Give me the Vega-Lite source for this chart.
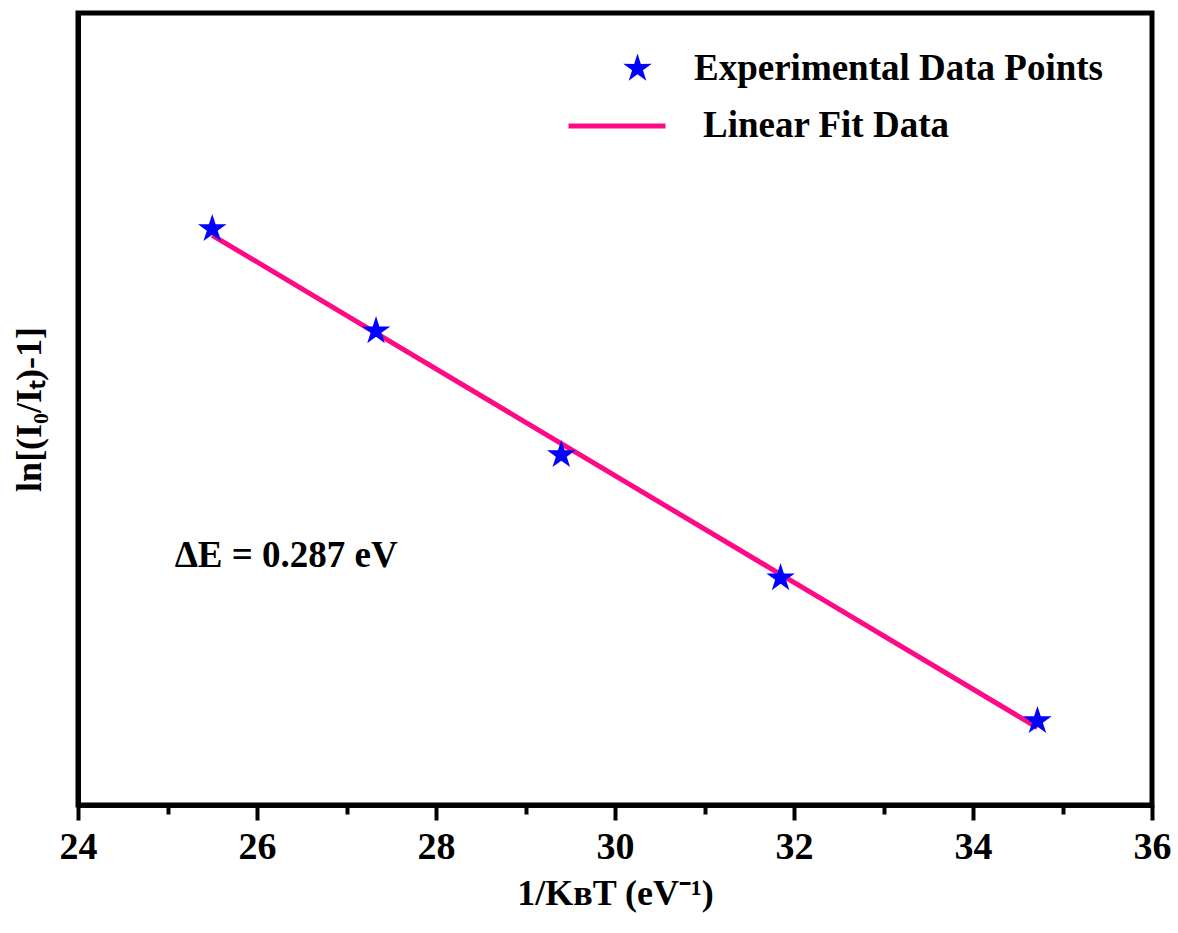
{
  "$schema": "https://vega.github.io/schema/vega-lite/v6.json",
  "width": 1074,
  "height": 792,
  "autosize": {"type": "none"},
  "padding": {"left": 78, "top": 13, "right": 26, "bottom": 128},
  "background": "white",
  "config": {
    "view": {"stroke": "black", "strokeWidth": 5},
    "font": "Liberation Serif",
    "axis": {"grid": false, "domainColor": "black", "domainWidth": 5, "tickColor": "black", "labelColor": "black", "titleColor": "black", "labelFont": "Liberation Serif", "titleFont": "Liberation Serif", "labelFontWeight": "bold", "titleFontWeight": "bold"},
    "legend": {"labelFont": "Liberation Serif", "labelFontWeight": "bold", "labelColor": "black", "labelFontSize": 37, "labelLimit": 0, "padding": 0}
  },
  "datasets": {
    "points": [
      {"x": 25.5, "y": 0.097, "series": "Experimental Data Points"},
      {"x": 27.33, "y": -0.452, "series": "Experimental Data Points"},
      {"x": 29.4, "y": -1.118, "series": "Experimental Data Points"},
      {"x": 31.85, "y": -1.78, "series": "Experimental Data Points"},
      {"x": 34.72, "y": -2.548, "series": "Experimental Data Points"}
    ],
    "fit": [
      {"x": 25.5, "y": 0.063, "series": "Linear Fit Data"},
      {"x": 27.33, "y": -0.463, "series": "Linear Fit Data"},
      {"x": 29.4, "y": -1.057, "series": "Linear Fit Data"},
      {"x": 31.85, "y": -1.76, "series": "Linear Fit Data"},
      {"x": 34.72, "y": -2.584, "series": "Linear Fit Data"}
    ],
    "annot": [
      {"x": 25.08, "y": -1.661, "label": "ΔE = 0.287 eV"}
    ]
  },
  "layer": [
    {
      "data": {"name": "fit"},
      "mark": {"type": "line", "strokeWidth": 5},
      "encoding": {
        "x": {"field": "x", "type": "quantitative", "scale": {"domain": [24, 36], "nice": false, "zero": false},
          "axis": {"orient": "bottom", "values": [24, 26, 28, 30, 32, 34, 36], "tickSize": 15, "tickWidth": 4, "labelFont": "Liberation Serif", "labelFontWeight": "bold", "labelFontSize": 38, "labelFlush": false, "labelOverlap": false, "labelPadding": 8, "titleFontSize": 36, "titlePadding": 10, "title": "1/KʙT (eV⁻¹)"}},
        "y": {"field": "y", "type": "quantitative", "scale": {"domain": [-3, 1.258], "nice": false, "zero": false},
          "axis": {"ticks": false, "labels": false, "title": "ln[(I₀/Iₜ)-1]", "titleFontSize": 36, "titlePadding": 30}},
        "stroke": {"field": "series", "type": "nominal", "scale": {"domain": ["Linear Fit Data"], "range": ["#ff0a86"]},
          "legend": {"title": null, "orient": "none", "legendX": 488, "legendY": 62, "symbolType": "stroke", "symbolSize": 9409, "symbolStrokeWidth": 5, "labelOffset": 35}}
      }
    },
    {
      "data": {"name": "points"},
      "mark": {"type": "point", "filled": true, "opacity": 1, "size": 900, "strokeWidth": 0},
      "encoding": {
        "x": {"field": "x", "type": "quantitative", "axis": null},
        "y": {"field": "y", "type": "quantitative"},
        "color": {"field": "series", "type": "nominal", "scale": {"domain": ["Experimental Data Points"], "range": ["#0000ff"]},
          "legend": {"title": null, "orient": "none", "legendX": 541, "legendY": 37, "symbolSize": 900, "symbolStrokeWidth": 0, "labelOffset": 38}},
        "shape": {"field": "series", "type": "nominal", "scale": {"domain": ["Experimental Data Points"], "range": ["M0,-1L0.223,-0.307L0.951,-0.309L0.361,0.117L0.588,0.809L0,0.38L-0.588,0.809L-0.361,0.117L-0.951,-0.309L-0.223,-0.307Z"]},
          "legend": {"title": null, "orient": "none", "legendX": 541, "legendY": 37, "symbolSize": 900, "symbolStrokeWidth": 0, "labelOffset": 38}}
      }
    },
    {
      "data": {"name": "annot"},
      "mark": {"type": "text", "align": "left", "baseline": "middle", "fontSize": 37, "fontWeight": "bold", "font": "Liberation Serif", "color": "black"},
      "encoding": {
        "x": {"field": "x", "type": "quantitative",
          "axis": {"orient": "bottom", "values": [25, 27, 29, 31, 33, 35], "tickSize": 9, "tickWidth": 4, "labels": false, "domain": false, "title": null}},
        "y": {"field": "y", "type": "quantitative"},
        "text": {"field": "label"}
      }
    }
  ],
  "resolve": {"axis": {"x": "independent"}}
}
